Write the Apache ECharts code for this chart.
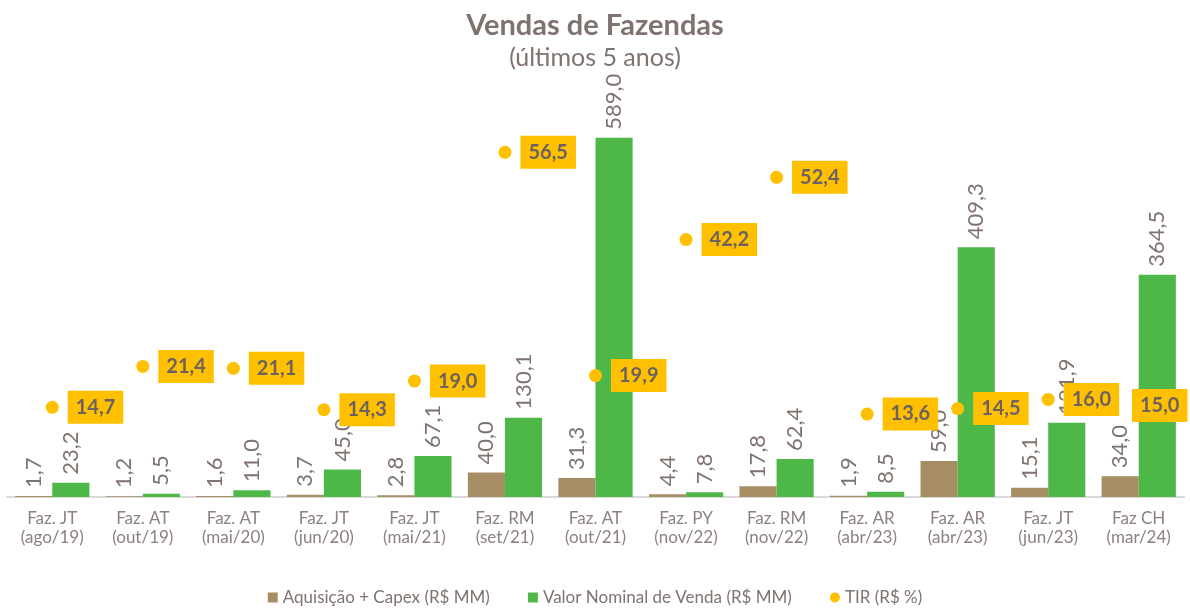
<!DOCTYPE html>
<html><head><meta charset="utf-8">
<script src="https://cdn.jsdelivr.net/npm/echarts@6/dist/echarts.min.js"></script>
<style>html,body{margin:0;padding:0;background:#fff}#c{width:1190px;height:608px}</style>
</head><body><div id="c"></div>
<script>
const categories = ['Faz. JT\n(ago/19)','Faz. AT\n(out/19)','Faz. AT\n(mai/20)','Faz. JT\n(jun/20)','Faz. JT\n(mai/21)','Faz. RM\n(set/21)','Faz. AT\n(out/21)','Faz. PY\n(nov/22)','Faz. RM\n(nov/22)','Faz. AR\n(abr/23)','Faz. AR\n(abr/23)','Faz. JT\n(jun/23)','Faz CH\n(mar/24)'];
const aquisicao = [1.7,1.2,1.6,3.7,2.8,40.0,31.3,4.4,17.8,1.9,59.0,15.1,34.0];
const venda = [23.2,5.5,11.0,45.0,67.1,130.1,589.0,7.8,62.4,8.5,409.3,121.9,364.5];
const tir = [14.7,21.4,21.1,14.3,19.0,56.5,19.9,42.2,52.4,13.6,14.5,16.0,15.0];

const gray = '#7f7370';
const fmt = v => v.toFixed(1).replace('.', ',');
const font = 'Lato, "Open Sans", sans-serif';
const barLabel = {show:true, position:'top', rotate:90, align:'left', verticalAlign:'middle', distance:8,
  color: gray, fontSize:22, fontFamily:font, formatter: p => fmt(p.value)};

const tirData = tir.map((v,i) => i === tir.length-1 ? {value:v, label:{position:'inside', offset:[21,0]}} : v);

const chart = echarts.init(document.getElementById('c'));
chart.setOption({
  animation:false,
  title:{text:'Vendas de Fazendas', subtext:'(últimos 5 anos)', left:'center', top:6, itemGap:5,
    textStyle:{color:gray, fontSize:29, fontWeight:'bold', fontFamily:font},
    subtextStyle:{color:gray, fontSize:25, fontFamily:font}},
  legend:{top:584, itemWidth:10, itemHeight:10, itemGap:38,
    textStyle:{color:gray, fontSize:17, fontFamily:font},
    data:[{name:'Aquisição + Capex (R$ MM)', icon:'rect'},{name:'Valor Nominal de Venda (R$ MM)', icon:'rect'},{name:'TIR (R$ %)', icon:'circle'}]},
  grid:{left:7, right:6, top:70, bottom:111, containLabel:false},
  xAxis:{type:'category', data:categories,
    axisLine:{lineStyle:{color:'#d9d9d9', width:2}}, axisTick:{show:false},
    axisLabel:{color:'#8c8080', fontSize:17, lineHeight:19, margin:12, fontFamily:font, interval:0}},
  yAxis:[{type:'value', min:0, max:700, show:false, splitLine:{show:false}},
         {type:'value', min:0, max:70, show:false, splitLine:{show:false}}],
  series:[
    {name:'Aquisição + Capex (R$ MM)', type:'bar', data:aquisicao, barGap:'0%', barCategoryGap:'18%',
      itemStyle:{color:'#a68d64'}, label:barLabel, z:2},
    {name:'Valor Nominal de Venda (R$ MM)', type:'bar', data:venda,
      itemStyle:{color:'#4db848'}, label:barLabel, z:2},
    {name:'TIR (R$ %)', type:'scatter', yAxisIndex:1, data:tirData, symbolSize:13, z:10,
      itemStyle:{color:'#ffc000', opacity:1},
      label:{show:true, position:'right', distance:9, backgroundColor:'#ffc000', padding:[7,8,6,8],
        color:'#6d625f', fontSize:20, fontWeight:'bold', fontFamily:font, formatter:p => fmt(p.value)}}
  ]
});
</script></body></html>
